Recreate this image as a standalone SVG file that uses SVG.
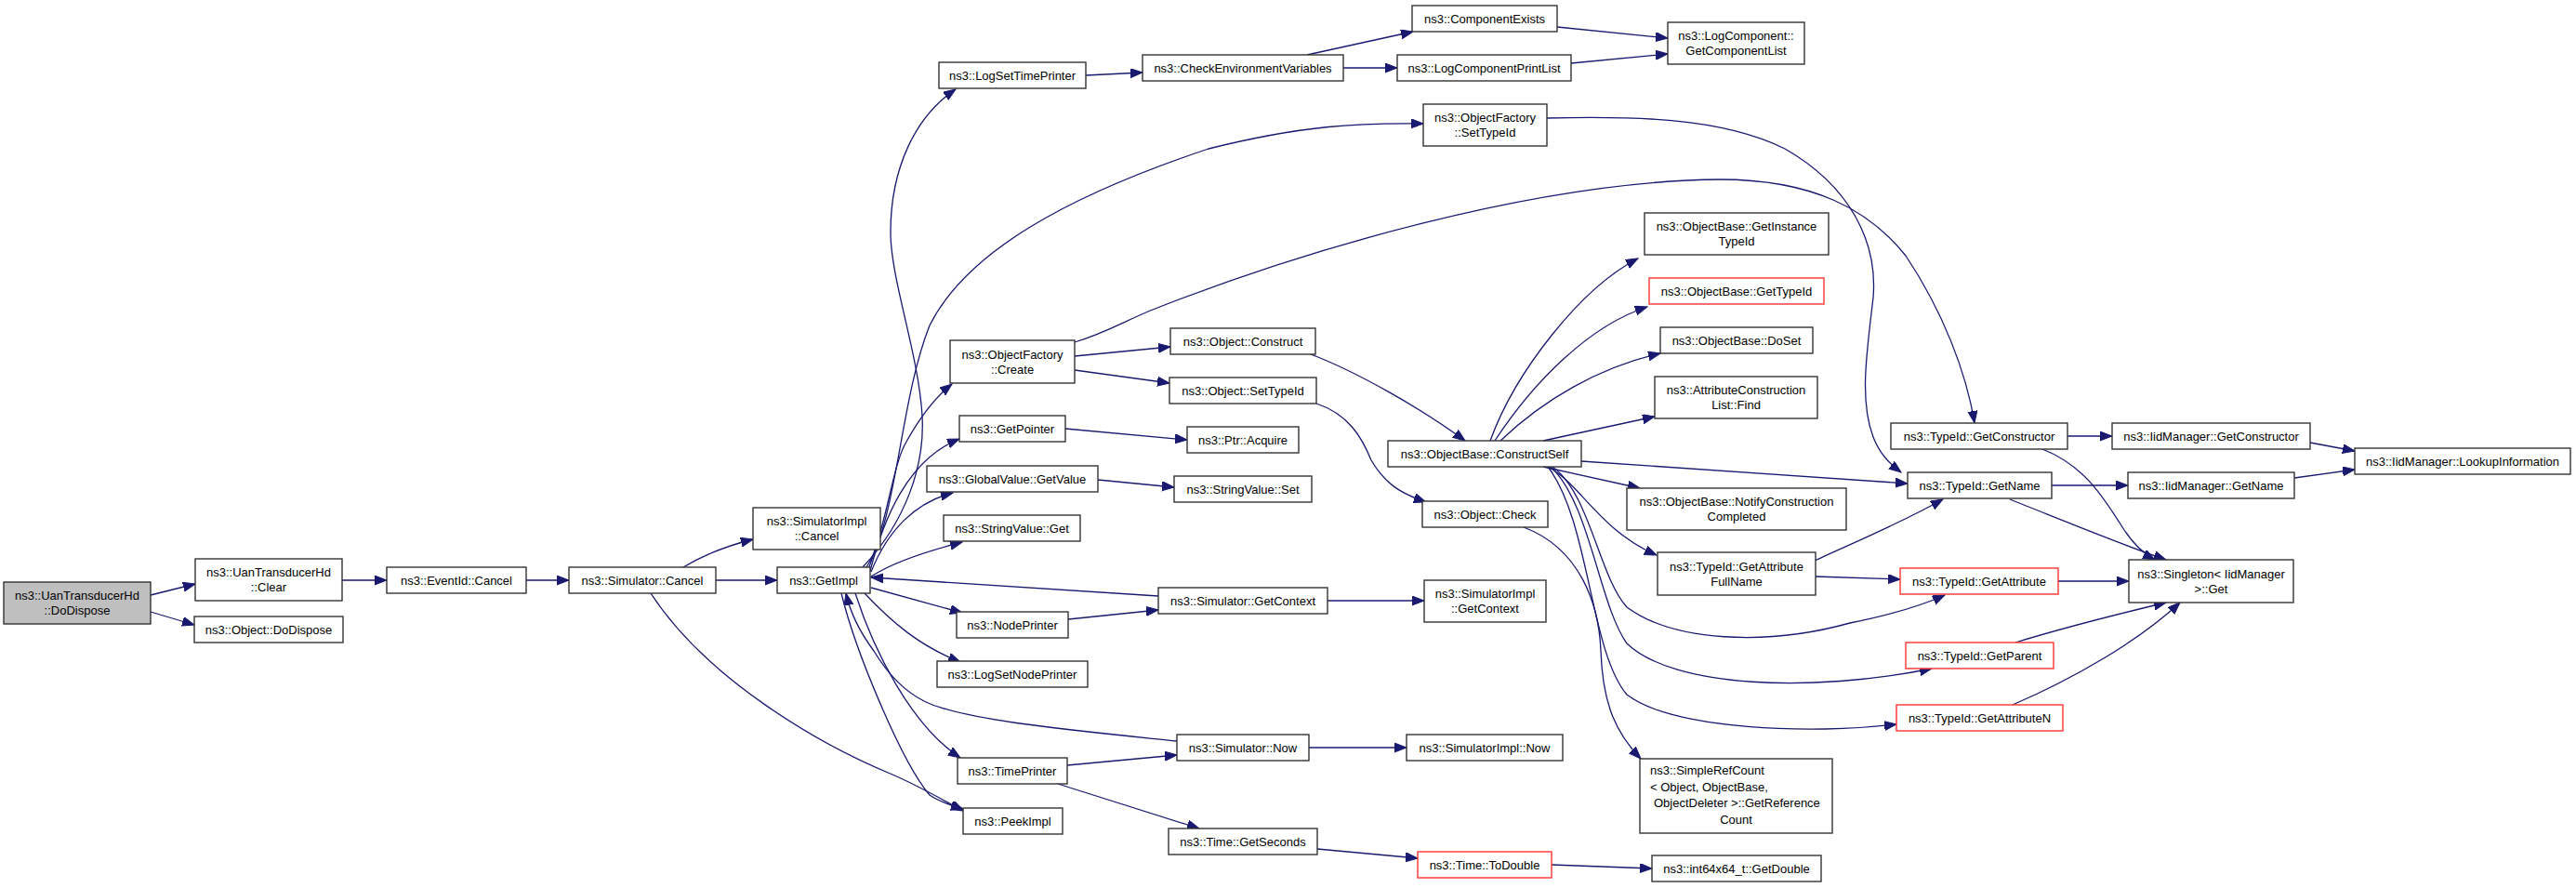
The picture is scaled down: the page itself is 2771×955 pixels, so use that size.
<svg xmlns="http://www.w3.org/2000/svg" width="2771" height="955" viewBox="0 0 2771 955">
<style>
.n rect{fill:#fff;stroke:#333;stroke-width:1.4}
.r rect{stroke:#ff3333}
.root rect{fill:#bfbfbf}
text{font-family:"Liberation Sans",Arial,sans-serif;font-size:13px;text-anchor:middle;fill:#000}
text.l{text-anchor:start}
.e path{fill:none;stroke:#191970;stroke-width:1.3;marker-end:url(#arr)}
</style>
<defs>
<marker id="arr" markerUnits="userSpaceOnUse" markerWidth="14" markerHeight="11" refX="13" refY="5" orient="auto">
<path d="M0,0 L13,5 L0,10 z" fill="#191970" stroke="#191970" stroke-width="1"/>
</marker>
</defs>
<rect width="2771" height="955" fill="#fff"/>
<g class="e" id="edges">
<path d="M162,640 L210,628"/>
<path d="M162,658 L209,672"/>
<path d="M368,624 L416,624"/>
<path d="M566,624 L612,624"/>
<path d="M735,610 C760,595 790,585 810,580"/>
<path d="M770,624 L836,624"/>
<path d="M700,638 C760,730 880,800 960,833 C990,846 1010,858 1036,872"/>
<path d="M928,610 C975,560 995,500 992,447 C988,380 958,300 958,250 C958,180 985,125 1028,96"/>
<path d="M932,610 C965,560 968,430 1000,350 C1040,270 1150,210 1300,160 C1400,135 1460,132 1531,133"/>
<path d="M934,612 C955,560 960,500 975,475 C990,448 1005,428 1024,413"/>
<path d="M936,614 C950,560 975,495 1032,472"/>
<path d="M937,615 C955,570 985,540 1025,530"/>
<path d="M937,620 C960,605 1000,592 1035,583"/>
<path d="M937,632 L1035,659"/>
<path d="M930,638 C960,670 990,695 1033,712"/>
<path d="M920,638 C940,700 980,780 1033,815"/>
<path d="M905,638 C920,700 970,820 1000,855 C1010,862 1022,866 1036,870"/>
<path d="M1246,641 C1150,635 1050,628 937,621"/>
<path d="M1266,797 C1150,785 1040,775 996,755 C975,745 955,725 940,700 C925,680 915,660 910,638"/>
<path d="M1168,81 L1229,78"/>
<path d="M1156,383 L1259,373"/>
<path d="M1156,398 L1258,412"/>
<path d="M1156,368 C1190,358 1210,345 1240,333 C1400,270 1650,195 1850,193 C1950,193 2010,225 2050,275 C2090,335 2115,400 2124,455"/>
<path d="M1664,127 C1750,125 1850,125 1920,160 C1990,200 2020,260 2015,320 C2008,380 2000,430 2015,470 C2022,488 2032,498 2045,508"/>
<path d="M1146,461 L1277,473"/>
<path d="M1181,516 L1263,524"/>
<path d="M1149,666 L1246,656"/>
<path d="M1148,823 L1266,812"/>
<path d="M1138,843 L1290,891"/>
<path d="M1406,59 L1520,34"/>
<path d="M1445,73 L1503,73"/>
<path d="M1410,381 C1460,400 1530,440 1576,474"/>
<path d="M1416,434 C1450,445 1465,470 1475,495 C1490,520 1505,530 1534,540"/>
<path d="M1428,646 L1532,646"/>
<path d="M1408,804 L1513,804"/>
<path d="M1417,913 L1525,923"/>
<path d="M1669,930 L1777,934"/>
<path d="M1675,29 L1794,41"/>
<path d="M1690,68 L1794,58"/>
<path d="M1603,474 C1630,400 1700,310 1762,278"/>
<path d="M1608,474 C1650,410 1710,350 1772,330"/>
<path d="M1614,474 C1660,430 1720,395 1786,380"/>
<path d="M1660,474 L1780,448"/>
<path d="M1660,502 L1764,525"/>
<path d="M1665,502 C1700,520 1720,570 1782,597"/>
<path d="M1701,496 L2052,520"/>
<path d="M1670,502 C1710,530 1720,620 1750,653 C1800,690 1900,695 1990,670 C2040,660 2070,650 2092,640"/>
<path d="M1668,502 C1710,540 1720,650 1750,692 C1800,740 1950,745 2078,719"/>
<path d="M1665,502 C1710,560 1710,700 1750,747 C1800,785 1950,790 2040,779"/>
<path d="M1639,567 C1700,590 1720,650 1722,700 C1724,760 1740,790 1765,816"/>
<path d="M1952,603 C1990,585 2040,565 2090,537"/>
<path d="M1952,620 L2044,623"/>
<path d="M2224,469 L2272,469"/>
<path d="M2197,483 C2240,500 2260,530 2285,570 C2295,585 2305,595 2318,602"/>
<path d="M2207,522 L2289,522"/>
<path d="M2162,537 C2220,560 2280,585 2330,602"/>
<path d="M2485,476 L2533,485"/>
<path d="M2468,514 L2533,505"/>
<path d="M2214,625 L2290,625"/>
<path d="M2168,691 C2220,675 2280,660 2330,648"/>
<path d="M2165,758 C2230,730 2300,690 2345,648"/>
</g>
<g id="n0" class="n root"><rect x="4" y="626" width="158" height="45"/><text x="83" y="645">ns3::UanTransducerHd</text><text x="83" y="661">::DoDispose</text></g>
<g id="n1" class="n"><rect x="210" y="601" width="158" height="45"/><text x="289" y="620">ns3::UanTransducerHd</text><text x="289" y="636">::Clear</text></g>
<g id="n2" class="n"><rect x="209" y="663" width="160" height="28"/><text x="289" y="681.5">ns3::Object::DoDispose</text></g>
<g id="n3" class="n"><rect x="416" y="610" width="150" height="28"/><text x="491" y="628.5">ns3::EventId::Cancel</text></g>
<g id="n4" class="n"><rect x="612" y="610" width="158" height="28"/><text x="691" y="628.5">ns3::Simulator::Cancel</text></g>
<g id="n5" class="n"><rect x="810" y="546" width="137" height="45"/><text x="878.5" y="565">ns3::SimulatorImpl</text><text x="878.5" y="581">::Cancel</text></g>
<g id="n6" class="n"><rect x="836" y="610" width="100" height="28"/><text x="886" y="628.5">ns3::GetImpl</text></g>
<g id="n7" class="n"><rect x="1010" y="67" width="158" height="28"/><text x="1089" y="85.5">ns3::LogSetTimePrinter</text></g>
<g id="n8" class="n"><rect x="1022" y="366" width="134" height="46"/><text x="1089" y="385.5">ns3::ObjectFactory</text><text x="1089" y="401.5">::Create</text></g>
<g id="n9" class="n"><rect x="1032" y="447" width="114" height="28"/><text x="1089" y="465.5">ns3::GetPointer</text></g>
<g id="n10" class="n"><rect x="997" y="501" width="184" height="28"/><text x="1089" y="519.5">ns3::GlobalValue::GetValue</text></g>
<g id="n11" class="n"><rect x="1015" y="554" width="147" height="28"/><text x="1088.5" y="572.5">ns3::StringValue::Get</text></g>
<g id="n12" class="n"><rect x="1029" y="658" width="120" height="28"/><text x="1089" y="676.5">ns3::NodePrinter</text></g>
<g id="n13" class="n"><rect x="1008" y="711" width="162" height="28"/><text x="1089" y="729.5">ns3::LogSetNodePrinter</text></g>
<g id="n14" class="n"><rect x="1030" y="815" width="118" height="28"/><text x="1089" y="833.5">ns3::TimePrinter</text></g>
<g id="n15" class="n"><rect x="1036" y="869" width="107" height="28"/><text x="1089.5" y="887.5">ns3::PeekImpl</text></g>
<g id="n16" class="n"><rect x="1229" y="59" width="216" height="28"/><text x="1337" y="77.5">ns3::CheckEnvironmentVariables</text></g>
<g id="n17" class="n"><rect x="1259" y="353" width="156" height="28"/><text x="1337" y="371.5">ns3::Object::Construct</text></g>
<g id="n18" class="n"><rect x="1258" y="406" width="158" height="28"/><text x="1337" y="424.5">ns3::Object::SetTypeId</text></g>
<g id="n19" class="n"><rect x="1277" y="459" width="120" height="28"/><text x="1337" y="477.5">ns3::Ptr::Acquire</text></g>
<g id="n20" class="n"><rect x="1263" y="512" width="148" height="28"/><text x="1337" y="530.5">ns3::StringValue::Set</text></g>
<g id="n21" class="n"><rect x="1246" y="632" width="182" height="28"/><text x="1337" y="650.5">ns3::Simulator::GetContext</text></g>
<g id="n22" class="n"><rect x="1266" y="790" width="142" height="28"/><text x="1337" y="808.5">ns3::Simulator::Now</text></g>
<g id="n23" class="n"><rect x="1257" y="891" width="160" height="28"/><text x="1337" y="909.5">ns3::Time::GetSeconds</text></g>
<g id="n24" class="n"><rect x="1519" y="6" width="156" height="28"/><text x="1597" y="24.5">ns3::ComponentExists</text></g>
<g id="n25" class="n"><rect x="1503" y="59" width="187" height="28"/><text x="1596.5" y="77.5">ns3::LogComponentPrintList</text></g>
<g id="n26" class="n"><rect x="1531" y="112" width="133" height="45"/><text x="1597.5" y="131">ns3::ObjectFactory</text><text x="1597.5" y="147">::SetTypeId</text></g>
<g id="n27" class="n"><rect x="1493" y="474" width="208" height="28"/><text x="1597" y="492.5">ns3::ObjectBase::ConstructSelf</text></g>
<g id="n28" class="n"><rect x="1530" y="539" width="135" height="28"/><text x="1597.5" y="557.5">ns3::Object::Check</text></g>
<g id="n29" class="n"><rect x="1532" y="624" width="131" height="45"/><text x="1597.5" y="643">ns3::SimulatorImpl</text><text x="1597.5" y="659">::GetContext</text></g>
<g id="n30" class="n"><rect x="1513" y="790" width="168" height="28"/><text x="1597" y="808.5">ns3::SimulatorImpl::Now</text></g>
<g id="n31" class="n r"><rect x="1525" y="916" width="144" height="28"/><text x="1597" y="934.5">ns3::Time::ToDouble</text></g>
<g id="n32" class="n"><rect x="1794" y="24" width="147" height="45"/><text x="1867.5" y="43">ns3::LogComponent::</text><text x="1867.5" y="59">GetComponentList</text></g>
<g id="n33" class="n"><rect x="1769" y="229" width="198" height="45"/><text x="1868" y="248">ns3::ObjectBase::GetInstance</text><text x="1868" y="264">TypeId</text></g>
<g id="n34" class="n r"><rect x="1774" y="299" width="188" height="28"/><text x="1868" y="317.5">ns3::ObjectBase::GetTypeId</text></g>
<g id="n35" class="n"><rect x="1786" y="352" width="164" height="28"/><text x="1868" y="370.5">ns3::ObjectBase::DoSet</text></g>
<g id="n36" class="n"><rect x="1780" y="405" width="175" height="45"/><text x="1867.5" y="424">ns3::AttributeConstruction</text><text x="1867.5" y="440">List::Find</text></g>
<g id="n37" class="n"><rect x="1750" y="525" width="236" height="45"/><text x="1868" y="544">ns3::ObjectBase::NotifyConstruction</text><text x="1868" y="560">Completed</text></g>
<g id="n38" class="n"><rect x="1783" y="594" width="170" height="46"/><text x="1868" y="613.5">ns3::TypeId::GetAttribute</text><text x="1868" y="629.5">FullName</text></g>
<g id="n39" class="n"><rect x="1764" y="816" width="207" height="80"/><text class="l" x="1775" y="833">ns3::SimpleRefCount</text><text class="l" x="1775" y="850.5">&lt; Object, ObjectBase,</text><text class="l" x="1779" y="868">ObjectDeleter &gt;::GetReference</text><text x="1867.5" y="885.5">Count</text></g>
<g id="n40" class="n"><rect x="1777" y="920" width="182" height="28"/><text x="1868" y="938.5">ns3::int64x64_t::GetDouble</text></g>
<g id="n41" class="n"><rect x="2034" y="455" width="190" height="28"/><text x="2129" y="473.5">ns3::TypeId::GetConstructor</text></g>
<g id="n42" class="n"><rect x="2052" y="508" width="155" height="28"/><text x="2129.5" y="526.5">ns3::TypeId::GetName</text></g>
<g id="n43" class="n r"><rect x="2044" y="611" width="170" height="28"/><text x="2129" y="629.5">ns3::TypeId::GetAttribute</text></g>
<g id="n44" class="n r"><rect x="2050" y="691" width="159" height="28"/><text x="2129.5" y="709.5">ns3::TypeId::GetParent</text></g>
<g id="n45" class="n r"><rect x="2040" y="758" width="179" height="28"/><text x="2129.5" y="776.5">ns3::TypeId::GetAttributeN</text></g>
<g id="n46" class="n"><rect x="2272" y="455" width="213" height="28"/><text x="2378.5" y="473.5">ns3::IidManager::GetConstructor</text></g>
<g id="n47" class="n"><rect x="2289" y="508" width="179" height="28"/><text x="2378.5" y="526.5">ns3::IidManager::GetName</text></g>
<g id="n48" class="n"><rect x="2290" y="602" width="177" height="46"/><text x="2378.5" y="621.5">ns3::Singleton&lt; IidManager</text><text x="2378.5" y="637.5">&gt;::Get</text></g>
<g id="n49" class="n"><rect x="2533" y="482" width="232" height="28"/><text x="2649" y="500.5">ns3::IidManager::LookupInformation</text></g>
</svg>
